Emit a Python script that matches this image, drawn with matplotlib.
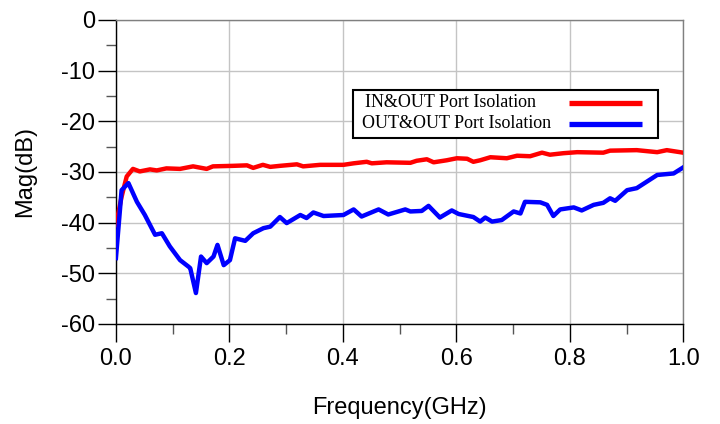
"""
Port isolation of the combiner, IN&OUT and OUT&OUT
"""
import matplotlib

matplotlib.use("Agg")
import matplotlib.pyplot as plt  # noqa:E402
from matplotlib.lines import Line2D  # noqa:E402
from matplotlib.patches import Rectangle  # noqa:E402
from matplotlib.ticker import MultipleLocator, FormatStrFormatter  # noqa:E402

# IN&OUT port isolation
in_out_freq = [0.0, 0.010, 0.019, 0.030, 0.042, 0.060, 0.072, 0.089, 0.113, 0.136,
               0.160, 0.171, 0.206, 0.231, 0.242, 0.259, 0.272, 0.289, 0.319, 0.330,
               0.360, 0.401, 0.419, 0.442, 0.451, 0.477, 0.519, 0.530, 0.548, 0.560,
               0.583, 0.601, 0.619, 0.630, 0.642, 0.660, 0.689, 0.707, 0.730, 0.751,
               0.765, 0.789, 0.813, 0.859, 0.871, 0.918, 0.954, 0.971, 1.0]
in_out_mag = [-40.5, -34.9, -30.9, -29.4, -29.9, -29.5, -29.7, -29.3, -29.4, -28.9,
              -29.4, -28.9, -28.8, -28.7, -29.2, -28.6, -29.0, -28.8, -28.5, -28.9,
              -28.6, -28.6, -28.3, -28.0, -28.3, -28.1, -28.2, -27.8, -27.5, -28.1,
              -27.7, -27.3, -27.4, -28.0, -27.7, -27.1, -27.3, -26.8, -26.9, -26.2,
              -26.6, -26.3, -26.1, -26.2, -25.8, -25.7, -26.1, -25.7, -26.2]

# OUT&OUT port isolation
out_out_freq = [0.0, 0.010, 0.022, 0.037, 0.051, 0.069, 0.081, 0.095, 0.113, 0.128,
                0.131, 0.141, 0.150, 0.160, 0.172, 0.179, 0.190, 0.201, 0.210, 0.228,
                0.242, 0.260, 0.272, 0.289, 0.301, 0.325, 0.336, 0.348, 0.366, 0.401,
                0.419, 0.433, 0.463, 0.480, 0.510, 0.519, 0.539, 0.551, 0.571, 0.592,
                0.604, 0.630, 0.642, 0.651, 0.663, 0.680, 0.701, 0.713, 0.721, 0.748,
                0.760, 0.771, 0.783, 0.807, 0.821, 0.842, 0.859, 0.871, 0.880, 0.901,
                0.918, 0.936, 0.954, 0.983, 1.0]
out_out_mag = [-47.0, -33.6, -32.2, -35.9, -38.5, -42.4, -42.1, -44.7, -47.4, -48.7,
               -49.0, -53.9, -46.7, -48.0, -46.7, -44.4, -48.4, -47.4, -43.1, -43.6,
               -42.1, -41.1, -40.8, -38.9, -40.1, -38.5, -39.1, -38.0, -38.7, -38.5,
               -37.4, -38.8, -37.4, -38.4, -37.4, -37.8, -37.7, -36.7, -39.0, -37.6,
               -38.3, -38.9, -39.8, -39.0, -39.8, -39.5, -37.8, -38.2, -35.9, -36.0,
               -36.5, -38.7, -37.4, -37.0, -37.6, -36.5, -36.1, -35.2, -35.7, -33.6,
               -33.2, -31.9, -30.6, -30.3, -29.1]

series_labels = ["IN&OUT Port Isolation", "OUT&OUT Port Isolation"]
series_colors = ["#ff0000", "#0000ff"]


def draw_legend(ax):
    """
    Boxed legend with the text left and the line samples right
    """
    ax.add_patch(Rectangle((0.418, 0.612), 0.538, 0.158, transform=ax.transAxes,
                           facecolor="white", edgecolor="black", linewidth=1.5,
                           zorder=5))
    text_y = [0.728, 0.660]
    text_x = [0.439, 0.434]
    for label, color, tx, ty in zip(series_labels, series_colors, text_x, text_y):
        ax.text(tx, ty, label, transform=ax.transAxes, ha="left", va="center",
                fontsize=13, family="Liberation Serif", zorder=6)
        ax.add_line(Line2D([0.799, 0.928], [ty - 0.002, ty - 0.002],
                           transform=ax.transAxes, color=color, linewidth=3.8,
                           solid_capstyle="butt", zorder=6))


def main():
    plt.rcParams.update({"font.family": "Liberation Sans", "font.size": 17,
                         "axes.unicode_minus": False})

    fig = plt.figure(figsize=(7.2, 4.24), dpi=100)
    ax = fig.add_axes([0.161, 0.236, 0.788, 0.717])

    ax.plot(in_out_freq, in_out_mag, color=series_colors[0], linewidth=3.2, zorder=3)
    ax.plot(out_out_freq, out_out_mag, color=series_colors[1], linewidth=3.2, zorder=3)

    ax.set_xlim(0, 1)
    ax.set_ylim(-60, 0)
    ax.xaxis.set_major_locator(MultipleLocator(0.2))
    ax.xaxis.set_minor_locator(MultipleLocator(0.1))
    ax.yaxis.set_major_locator(MultipleLocator(10))
    ax.yaxis.set_minor_locator(MultipleLocator(5))
    ax.xaxis.set_major_formatter(FormatStrFormatter("%.1f"))

    ax.grid(True, which="major", color="#c4c4c4", linewidth=1.0, zorder=0)
    ax.set_axisbelow(True)

    ax.tick_params(which="major", direction="out", length=13, width=1.0,
                   color="black")
    ax.tick_params(which="minor", direction="out", length=7, width=1.0,
                   color="#555555")
    ax.tick_params(axis="y", which="major", pad=2)
    ax.tick_params(axis="x", which="major", pad=4)

    ax.spines["left"].set_color("black")
    ax.spines["bottom"].set_color("black")
    ax.spines["top"].set_color("#808080")
    ax.spines["right"].set_color("#808080")
    for sp in ax.spines.values():
        sp.set_linewidth(1.0)

    ax.set_xlabel("Frequency(GHz)")
    ax.set_ylabel("Mag(dB)", va="center")
    ax.xaxis.set_label_coords(0.5, -0.24)
    ax.yaxis.set_label_coords(-0.16, 0.5)

    draw_legend(ax)

    fig.savefig("out.png", dpi=100)
    plt.close(fig)


if __name__ == "__main__":
    main()
